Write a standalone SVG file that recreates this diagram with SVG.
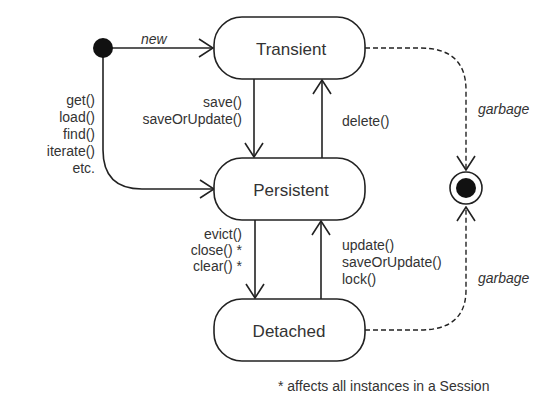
<svg xmlns="http://www.w3.org/2000/svg" width="542" height="420" viewBox="0 0 542 420">
<defs>
<style>
.node{fill:#fff;stroke:#222;stroke-width:1.6}
.nt{font-family:"Liberation Sans",Arial,sans-serif;font-size:17px;fill:#333;text-anchor:middle}
.lb{font-family:"Liberation Sans",Arial,sans-serif;font-size:14px;fill:#333}
.it{font-style:italic}
.c{fill:none;stroke:#222;stroke-width:1.6}
.d{fill:none;stroke:#222;stroke-width:1.4;stroke-dasharray:5,3}
</style>
<marker id="ah" viewBox="0 0 16 20" refX="15" refY="10" markerWidth="16" markerHeight="20" markerUnits="userSpaceOnUse" orient="auto">
<path d="M1,1 L15,10 L1,19" fill="none" stroke="#222" stroke-width="1.6"/>
</marker>
</defs>
<rect width="542" height="420" fill="#fff"/>
<g id="connectors">
<path class="c" d="M103,48 H213" marker-end="url(#ah)"/>
<path class="c" d="M103,48 V150 Q103,189 142,189 H214" marker-end="url(#ah)"/>
<path class="c" d="M254,79 V157" marker-end="url(#ah)"/>
<path class="c" d="M322,158 V80" marker-end="url(#ah)"/>
<path class="c" d="M255,220 V298" marker-end="url(#ah)"/>
<path class="c" d="M321,299 V221" marker-end="url(#ah)"/>
<path class="d" d="M365,48 H420 Q466,48 466,90 V170" marker-end="url(#ah)"/>
<path class="d" d="M365,330 H420 Q466,330 466,290 V207" marker-end="url(#ah)"/>
<text class="lb it" x="141" y="44">new</text>
<text class="lb" x="95" y="105" text-anchor="end">get()</text>
<text class="lb" x="95" y="122" text-anchor="end">load()</text>
<text class="lb" x="95" y="139" text-anchor="end">find()</text>
<text class="lb" x="95" y="156" text-anchor="end">iterate()</text>
<text class="lb" x="95" y="173" text-anchor="end">etc.</text>
<text class="lb" x="242" y="107" text-anchor="end">save()</text>
<text class="lb" x="242" y="124" text-anchor="end">saveOrUpdate()</text>
<text class="lb" x="342" y="126">delete()</text>
<text class="lb" x="242" y="239" text-anchor="end">evict()</text>
<text class="lb" x="242" y="255" text-anchor="end">close() *</text>
<text class="lb" x="242" y="271" text-anchor="end">clear() *</text>
<text class="lb" x="342" y="250">update()</text>
<text class="lb" x="342" y="267">saveOrUpdate()</text>
<text class="lb" x="342" y="284">lock()</text>
<text class="lb it" x="478" y="114">garbage</text>
<text class="lb it" x="478" y="283">garbage</text>
</g>
<g id="initial"><circle cx="103" cy="48" r="10" fill="#111"/></g>
<g id="transient"><rect class="node" x="214" y="17" width="151" height="62" rx="28"/><text class="nt" x="291" y="55">Transient</text></g>
<g id="persistent"><rect class="node" x="214" y="158" width="151" height="62" rx="28"/><text class="nt" x="291" y="196">Persistent</text></g>
<g id="detached"><rect class="node" x="214" y="299" width="151" height="62" rx="28"/><text class="nt" x="289" y="337">Detached</text></g>
<g id="final"><circle cx="466" cy="188" r="16" fill="#fff" stroke="#222" stroke-width="1.6"/><circle cx="466" cy="188" r="10" fill="#111"/></g>
<text class="lb" x="278" y="391">* affects all instances in a Session</text>
</svg>
